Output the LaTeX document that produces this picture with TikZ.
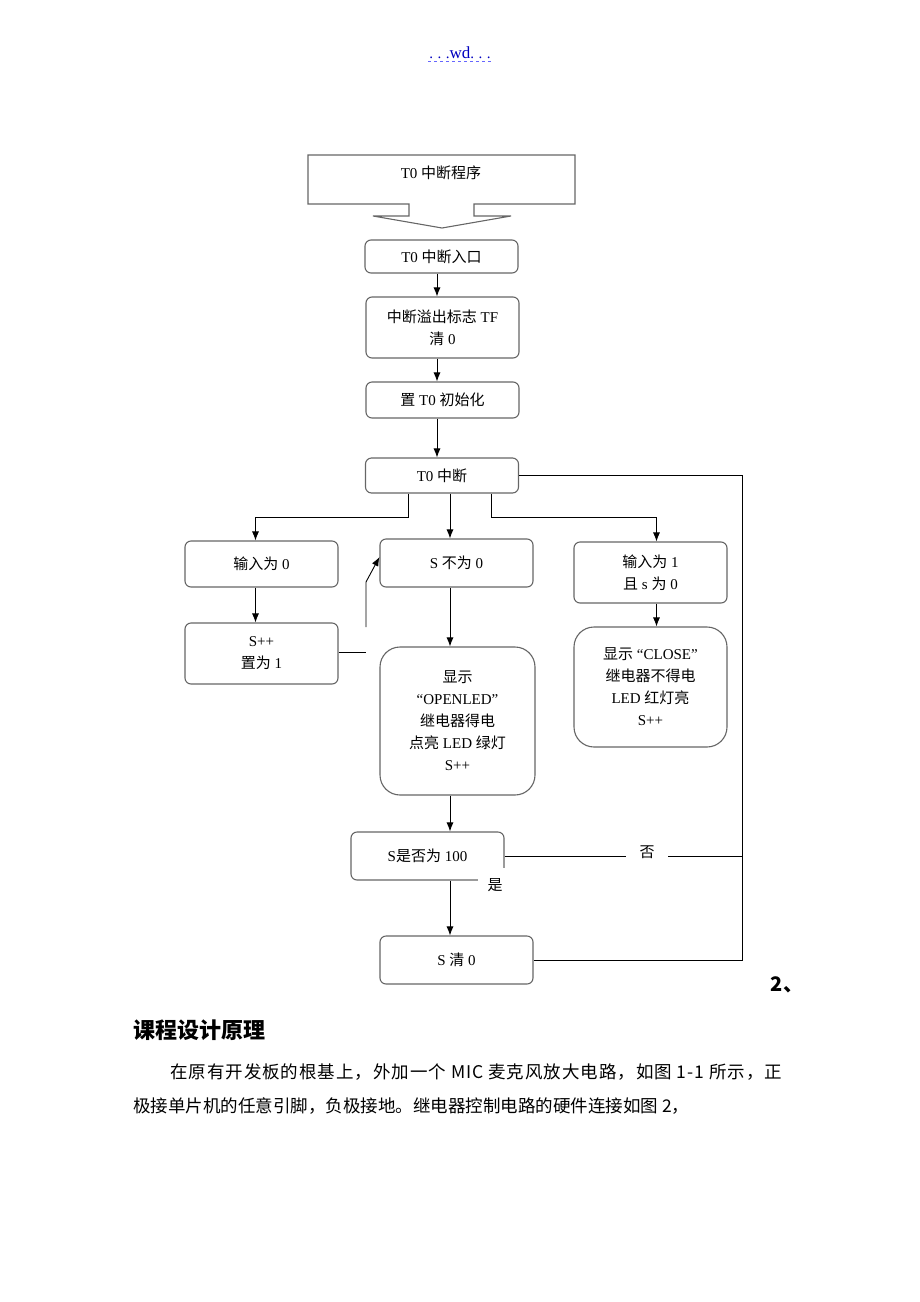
\documentclass[tikz,border=0pt]{standalone}
\usepackage{fontspec}
\setmainfont{Liberation Serif}
\newfontfamily\cjk{Noto Sans CJK SC}
\newfontfamily\cjkwide[LetterSpace=5.5]{Noto Sans CJK SC}
\newfontfamily\hdrfont[LetterSpace=30]{Liberation Serif}
\usetikzlibrary{arrows.meta, positioning, calc}
\newcommand{\zh}[1]{{\cjk #1}}

\begin{document}
\begin{tikzpicture}[
  x=1pt, y=-1pt,
  box/.style={draw=black!60, line width=1.1pt, rounded corners=6pt, align=center, minimum width=153pt, inner sep=2pt, font=\fontsize{15}{22}\selectfont},
  bigbox/.style={box, rounded corners=20pt},
  arr/.style={-{Latex[length=9pt,width=7pt]}, line width=0.9pt},
  ln/.style={line width=0.9pt},
]
  \useasboundingbox (0,0) rectangle (920,1302);

  % page header
  \node[font=\hdrfont\fontsize{15}{17}\selectfont, text=blue!75!black, inner sep=1pt] (hdr) at (460,53) {...{\rmfamily\fontsize{17}{17}\selectfont wd}...};
  \draw[dashed, blue!60, line width=0.6pt] ([yshift=-1pt]hdr.south west) -- ([yshift=-1pt]hdr.south east);

  % big entry arrow
  \draw[draw=black!60, line width=1.1pt] (409,204) -- (308,204) -- (308,155) -- (575,155) -- (575,204) -- (474,204)
    -- (474,216) -- (511,216) -- (442,228) -- (373,216) -- (409,216) -- cycle;
  \node[font=\fontsize{15}{18}\selectfont] (prog) at (441,173) {T0 \zh{中断程序}};

  % boxes
  \node[box, minimum height=33pt] (entry) at (441.5,256.5) {T0 \zh{中断入口}};
  \node[box, minimum height=61pt] (tfclr) at (442.5,327.5) {\zh{中断溢出标志} TF\\\zh{清} 0};
  \node[box, minimum height=36pt] (init) at (442.5,400) {\zh{置} T0 \zh{初始化}};
  \node[box, minimum height=35pt] (tzero) at (442,475.5) {T0 \zh{中断}};

  \node[box, minimum height=46pt] (in0) at (261.5,564) {\zh{输入为} 0};
  \node[box, minimum height=61pt] (spp) at (261.5,653.5) {S++\\\zh{置为} 1};
  \node[box, minimum height=48pt] (snz) at (456.5,563) {S \zh{不为} 0};
  \node[bigbox, minimum width=155pt, minimum height=148pt] (open) at (457.5,721) {\zh{显示}\\“OPENLED”\\\zh{继电器得电}\\\zh{点亮} LED \zh{绿灯}\\S++};
  \node[box, minimum height=61pt] (in1) at (650.5,572.5) {\zh{输入为} 1\\\zh{且} s \zh{为} 0};
  \node[bigbox, minimum height=120pt] (close) at (650.5,687) {\zh{显示} “CLOSE”\\\zh{继电器不得电}\\LED \zh{红灯亮}\\S++};

  \node[box, minimum height=48pt] (chk) at (427.5,856) {S\zh{是否为} 100};
  \node[box, minimum height=48pt] (sclr) at (456.5,960) {S \zh{清} 0};

  % helper points
  \coordinate (mid) at (450,0);
  \coordinate (lbr) at (408,517);
  \coordinate (rbr) at (491,517);
  \coordinate (rr) at (742,0);
  \coordinate (bk) at (366,652);
  \coordinate (up1) at (366,627);
  \coordinate (up2) at (366,582);

  % connectors
  \draw[arr] (entry.south -| 437,0) -- (tfclr.north -| 437,0);
  \draw[arr] (tfclr.south -| 437,0) -- (init.north -| 437,0);
  \draw[arr] (init.south -| 437,0) -- (tzero.north -| 437,0);

  \draw[arr] (tzero.south -| lbr) -- (lbr) -| ([xshift=-6pt]in0.north);
  \draw[arr] (tzero.south -| mid) -- (snz.north -| mid);
  \draw[arr] (tzero.south -| rbr) -- (rbr) -| ([xshift=6pt]in1.north);

  \draw[arr] ([xshift=-6pt]in0.south) -- ([xshift=-6pt]spp.north);
  \draw[ln] (spp.east |- bk) -- (bk);
  \draw[arr] (up1) -- (up2) -- ([yshift=6pt]snz.west);

  \draw[arr] (snz.south -| mid) -- (open.north -| mid);
  \draw[arr] ([xshift=6pt]in1.south) -- ([xshift=6pt]close.north);
  \draw[arr] (open.south -| mid) -- (chk.north -| mid);
  \draw[arr] (chk.south -| mid) -- (sclr.north -| mid);

  \draw[ln] (tzero.east) -- (tzero.east -| rr) -- (sclr.east -| rr) -- (sclr.east);
  \draw[ln] (chk.east) -- node[pos=0.6, fill=white, minimum width=42pt, yshift=4pt, font=\fontsize{15}{18}\selectfont] (no) {\zh{否}} (chk.east -| rr);
  \node[fill=white, minimum width=34pt, minimum height=34pt, font=\fontsize{15}{18}\selectfont] (yes) at (495,885) {\zh{是}};

  % text below
  \node[font=\cjk\bfseries\fontsize{20}{24}\selectfont] (num) at (787,985) {2、};
  \node[anchor=west, inner sep=0pt, font=\cjk\bfseries\fontsize{22}{26}\selectfont] (head) at (133,1030) {课程设计原理};
  \node[anchor=west, inner sep=0pt, font=\cjkwide\fontsize{17.5}{20}\selectfont] (par1) at (170,1072) {在原有开发板的根基上，外加一个 MIC 麦克风放大电路，如图 1-1 所示，正};
  \node[anchor=west, inner sep=0pt, font=\cjk\fontsize{17.5}{20}\selectfont] (par2) at (133,1106) {极接单片机的任意引脚，负极接地。继电器控制电路的硬件连接如图 2，};
\end{tikzpicture}
\end{document}
